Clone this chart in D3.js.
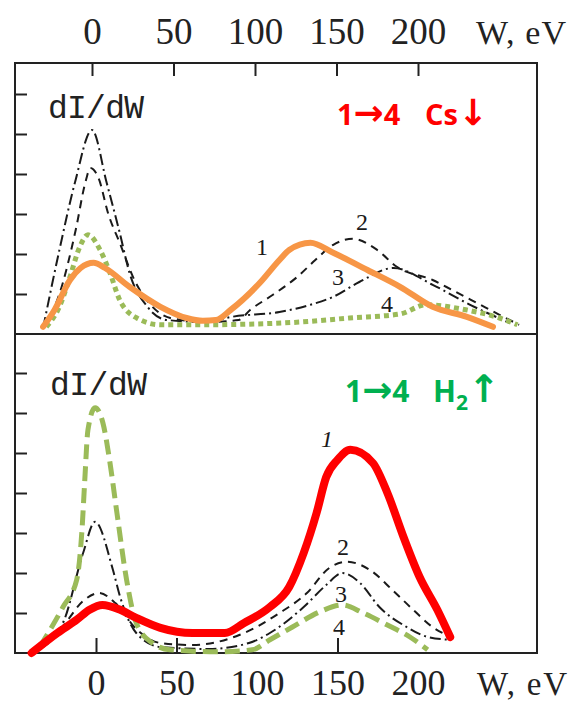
<!DOCTYPE html>
<html>
<head>
<meta charset="utf-8">
<script src="https://cdn.jsdelivr.net/npm/d3@7/dist/d3.min.js"></script>
<style>
  html, body { margin: 0; padding: 0; background: #fff; }
  svg { display: block; }
</style>
</head>
<body>
<svg id="chart" width="575" height="703"></svg>
<script>
// Energy axis ticks (eV)
const energyTicks = [0, 50, 100, 150, 200];
const bottomTickMarks = [0, 50, 150];
const topYTicks = [1, 2, 3, 4, 5, 6];
const bottomYTicks = [1, 2, 3, 4, 5, 6, 7];

// Upper panel: caesium decreasing, curves 1..4, [W (eV), dI/dW (tick units)]
const cs1 = [[-30,0.18],[-23,0.6],[-13.5,1.35],[-7,1.65],[1,1.78],[8,1.65],[23,1.18],[42,0.68],[58,0.4],[68,0.33],[76,0.35],[85,0.6],[103,1.28],[115,1.85],[121,2.1],[134,2.28],[148,2.03],[169,1.6],[189,1.18],[209,0.68],[230,0.43],[246,0.18]];
const cs2 = [[-30,0.15],[-20,1.0],[-10,2.6],[-4,3.8],[-1,4.15],[4,3.9],[10,3.0],[17,2.28],[26,1.35],[36,0.73],[48,0.4],[70,0.3],[90,0.35],[97,0.6],[111,0.98],[126,1.43],[137,1.85],[148,2.23],[160,2.38],[175,2.1],[187,1.68],[209,1.35],[221,1.1],[236,0.78],[250,0.48],[262,0.23]];
const cs3 = [[-30,0.15],[-20,2.1],[-10.5,3.78],[0,5.1],[9,3.78],[17,2.53],[23,1.53],[34,0.68],[46,0.35],[70,0.3],[86,0.43],[115,0.55],[134,0.73],[148,0.93],[164,1.3],[185,1.65],[209,1.23],[232,0.73],[256,0.28]];
const cs4 = [[-28,0.18],[-20,0.68],[-13.5,1.43],[-7.5,2.18],[-2.5,2.48],[5,2.1],[11,1.53],[17,0.85],[27.5,0.4],[42,0.23],[66,0.23],[100,0.25],[128,0.3],[158,0.4],[189,0.5],[205,0.73],[230,0.6],[250,0.4],[261,0.23]];

// Lower panel: hydrogen increasing, curves 1..4
const h1 = [[-40,0.0],[-24,0.5],[-12,0.83],[-4,1.08],[4,1.2],[15,1.08],[25,0.88],[40,0.63],[60,0.5],[80,0.5],[92,0.75],[108,1.15],[120,1.65],[129,2.5],[137,3.5],[143,4.4],[150,4.83],[158,5.08],[172,4.75],[181,4.0],[191,2.9],[201,1.9],[212,1.08],[220,0.4]];
const h2 = [[-35,0.1],[-20,0.7],[-8,1.3],[2,1.5],[12,1.25],[25,0.6],[40,0.25],[60,0.2],[89,0.45],[114,1.0],[131,1.5],[145,2.13],[156,2.28],[170,2.08],[184,1.58],[197,1.08],[209,0.65],[222,0.38]];
const h3 = [[-35,0.1],[-20,0.8],[-8,2.5],[-0.6,3.28],[10.5,2.08],[15,1.4],[25,0.5],[40,0.15],[70,0.1],[95,0.25],[108,0.5],[129,1.15],[143,1.7],[153,2.0],[164,1.75],[176,1.15],[193,0.65],[206,0.4],[220,0.33]];
const h4 = [[-35,0.15],[-20.5,1.15],[-12,1.83],[-8.7,3.08],[-7,4.3],[-5,5.58],[-0.6,6.13],[4.3,5.75],[8.7,4.75],[13,3.5],[19,1.83],[25,0.75],[35,0.25],[46,0.08],[75,0.03],[97,0.08],[108,0.33],[122,0.65],[139,1.03],[153,1.2],[166,1.0],[181,0.7],[195,0.4],[206,0.08]];

const svg = d3.select("#chart");
const serif = "'Liberation Serif', 'DejaVu Serif', serif";
const mono = "'Liberation Mono', 'DejaVu Sans Mono', monospace";
const sans = "'Open Sans', 'Liberation Sans', sans-serif";
const arrowFont = "'DejaVu Sans', sans-serif";

// Frame geometry
const frameLeft = 15, frameRight = 537, frameTop = 63, frameMid = 334, frameBottom = 653;

const xTop = d3.scaleLinear().domain([0, 200]).range([92, 418]);
const xBot = d3.scaleLinear().domain([0, 200]).range([96, 418]);
const yTop = d3.scaleLinear().domain([0, 1]).range([frameMid, frameMid - 40]);
const yBot = d3.scaleLinear().domain([0, 1]).range([frameBottom, frameBottom - 40]);

// Outer frame and the shared panel divider
const frame = svg.append("g").attr("stroke", "#222").attr("stroke-width", 2).attr("fill", "none");
frame.append("rect").attr("x", frameLeft).attr("y", frameTop)
  .attr("width", frameRight - frameLeft).attr("height", frameBottom - frameTop);
frame.append("line").attr("x1", frameLeft).attr("x2", frameRight).attr("y1", frameMid).attr("y2", frameMid);

// Energy axis along the top edge
const axTop = svg.append("g").attr("transform", `translate(0,${frameTop})`)
  .call(d3.axisTop(xTop).tickValues(energyTicks).tickSize(-13).tickPadding(19).tickFormat(d3.format("d")));
axTop.select(".domain").remove();
axTop.selectAll("line").attr("stroke", "#222").attr("stroke-width", 2);
axTop.selectAll("text").attr("font-family", serif).attr("font-size", 37).attr("fill", "#222");

// Energy axis along the bottom edge: labels, then the inward tick marks
const axBot = svg.append("g").attr("transform", `translate(0,${frameBottom})`)
  .call(d3.axisBottom(xBot).tickValues(energyTicks).tickSize(0).tickFormat(d3.format("d")));
axBot.select(".domain").remove();
axBot.selectAll("line").remove();
axBot.selectAll("text").attr("font-family", serif).attr("font-size", 36).attr("fill", "#222")
  .attr("y", 42).attr("dy", 0);
const axBotTicks = svg.append("g").attr("transform", `translate(0,${frameBottom})`)
  .call(d3.axisBottom(xBot).tickValues(bottomTickMarks).tickSize(-15).tickFormat(""));
axBotTicks.select(".domain").remove();
axBotTicks.selectAll("line").attr("stroke", "#222").attr("stroke-width", 2);

// Intensity ticks on the left edge of each panel
[[yTop, topYTicks], [yBot, bottomYTicks]].forEach(([y, vals]) => {
  const g = svg.append("g").attr("transform", `translate(${frameLeft},0)`)
    .call(d3.axisRight(y).tickValues(vals).tickSize(12).tickFormat(""));
  g.select(".domain").remove();
  g.selectAll("line").attr("stroke", "#222").attr("stroke-width", 2);
});

// Axis titles
svg.append("text").attr("x", 476).attr("y", 44).attr("font-family", serif).attr("font-size", 34)
  .attr("fill", "#222").attr("textLength", 90).text("W, eV");
svg.append("text").attr("x", 477).attr("y", 695).attr("font-family", serif).attr("font-size", 33)
  .attr("fill", "#222").attr("textLength", 90).text("W, eV");
svg.append("text").attr("x", 48).attr("y", 118).attr("font-family", mono).attr("font-size", 33)
  .attr("fill", "#222").attr("textLength", 96).text("dI/dW");
svg.append("text").attr("x", 50).attr("y", 395).attr("font-family", mono).attr("font-size", 33)
  .attr("fill", "#222").attr("textLength", 97).text("dI/dW");

function draw(data, x, y, opts) {
  const line = d3.line().x(d => x(d[0])).y(d => y(d[1])).curve(d3.curveMonotoneX);
  svg.append("path").datum(data).attr("d", line)
    .attr("fill", "none")
    .attr("stroke", opts.color)
    .attr("stroke-width", opts.width)
    .attr("stroke-dasharray", opts.dash || null)
    .attr("stroke-linecap", opts.cap || "round")
    .attr("stroke-linejoin", "round");
}

const dashed = "8,6";
const dashDot = "11,4,2,4";

// Upper panel curves
draw(cs2, xTop, yTop, { color: "#1a1a1a", width: 2, dash: dashed, cap: "butt" });
draw(cs3, xTop, yTop, { color: "#1a1a1a", width: 2, dash: dashDot, cap: "butt" });
draw(cs4, xTop, yTop, { color: "#9bbb59", width: 5, dash: "5,4", cap: "butt" });
draw(cs1, xTop, yTop, { color: "#f79646", width: 6 });

// Lower panel curves
draw(h2, xBot, yBot, { color: "#1a1a1a", width: 2, dash: dashed, cap: "butt" });
draw(h3, xBot, yBot, { color: "#1a1a1a", width: 2, dash: dashDot, cap: "butt" });
draw(h4, xBot, yBot, { color: "#9bbb59", width: 5, dash: "15,7", cap: "butt" });
draw(h1, xBot, yBot, { color: "#ff0000", width: 8 });

// Curve numbers
const curveLabels = [
  { t: "1", x: 262, y: 255, s: 24 }, { t: "2", x: 362, y: 230, s: 24 },
  { t: "3", x: 338, y: 285, s: 24 }, { t: "4", x: 387, y: 312, s: 24 },
  { t: "1", x: 327, y: 447, s: 24, it: true }, { t: "2", x: 343, y: 555, s: 24 },
  { t: "3", x: 341, y: 602, s: 24 }, { t: "4", x: 339, y: 635, s: 24 }
];
svg.append("g").selectAll("text").data(curveLabels).join("text")
  .attr("x", d => d.x).attr("y", d => d.y).attr("text-anchor", "middle")
  .attr("font-family", serif).attr("font-size", d => d.s)
  .attr("font-style", d => d.it ? "italic" : null).attr("fill", "#1a1a1a").text(d => d.t);

// Series annotations
const csLabel = svg.append("text").attr("x", 337).attr("y", 125).attr("font-family", sans)
  .attr("font-weight", "bold").attr("font-size", 29).attr("fill", "#ff0000");
csLabel.append("tspan").text("1");
csLabel.append("tspan").attr("font-family", arrowFont).attr("font-size", 36).text("\u2192");
csLabel.append("tspan").text("4");
csLabel.append("tspan").attr("x", 425).text("Cs");
csLabel.append("tspan").attr("font-family", arrowFont).attr("font-size", 36).text("\u2193");

const h2Label = svg.append("text").attr("x", 345).attr("y", 402).attr("font-family", sans)
  .attr("font-weight", "bold").attr("font-size", 30).attr("fill", "#00b050");
h2Label.append("tspan").text("1");
h2Label.append("tspan").attr("font-family", arrowFont).attr("font-size", 36).text("\u2192");
h2Label.append("tspan").text("4");
h2Label.append("tspan").attr("x", 433).text("H");
h2Label.append("tspan").attr("font-size", 21).attr("dy", 8).text("2");
h2Label.append("tspan").attr("font-family", arrowFont).attr("font-size", 38).attr("dy", -8).text("\u2191");
</script>
</body>
</html>
